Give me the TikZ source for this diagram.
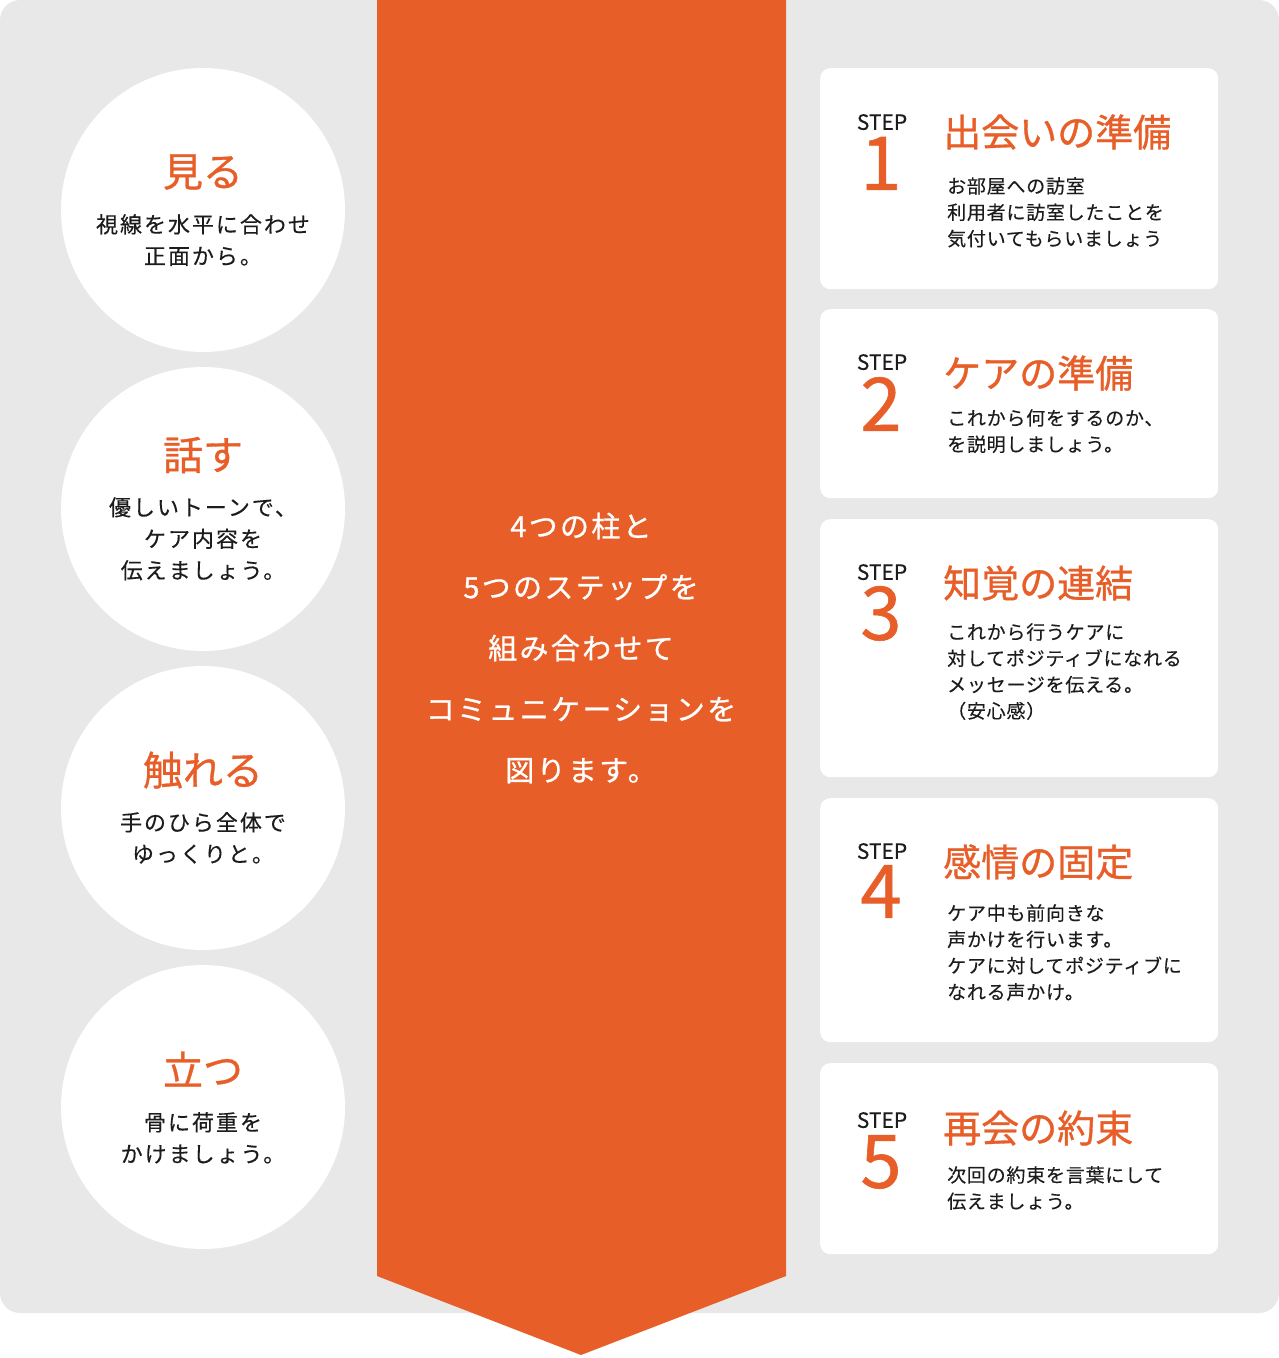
\documentclass[tikz,border=0pt]{standalone}
\usepackage{fontspec}
\setmainfont{Noto Sans CJK JP}[FakeBold=0.25]
\newfontfamily\jpmedium{Noto Sans CJK JP}[FakeBold=0.8]
\usepackage{xcolor}
\usetikzlibrary{shapes,positioning}

\definecolor{careorange}{HTML}{E85E28}
\definecolor{panelgray}{HTML}{E8E8E8}
\definecolor{inkblack}{HTML}{1C1C1C}

\begin{document}
\begin{tikzpicture}[x=1pt,y=-1pt]
      \tikzstyle{pillar} = [circle, fill=white, minimum size=284pt, inner sep=0pt]
      \tikzstyle{pillarhead} = [text=careorange, inner sep=0pt, font=\jpmedium\fontsize{40}{48}\selectfont]
      \tikzstyle{pillartext} = [text=inkblack, anchor=north, align=center, inner sep=0pt, font=\fontsize{22}{31.5}\selectfont\addfontfeatures{LetterSpace=9}]
      \tikzstyle{card} = [rectangle, rounded corners=10pt, fill=white, anchor=north west, minimum width=398pt, inner sep=0pt]
      \tikzstyle{steplabel} = [text=inkblack, anchor=south, inner sep=0pt, text height=15pt, text depth=0pt, font=\fontsize{21}{24}\selectfont]
      \tikzstyle{stepnum} = [text=careorange, anchor=south, inner sep=0pt, text height=51pt, text depth=0pt, font=\jpmedium\fontsize{74}{80}\selectfont]
      \tikzstyle{stephead} = [text=careorange, anchor=west, inner sep=0pt, font=\jpmedium\fontsize{38}{44}\selectfont]
      \tikzstyle{steptext} = [text=inkblack, anchor=north west, align=left, inner sep=0pt, font=\fontsize{19}{26.3}\selectfont\addfontfeatures{LetterSpace=4}]

      \useasboundingbox (0,0) rectangle (1279,1358);
      \fill[panelgray, rounded corners=20pt] (0,0) rectangle (1279,1313);
      \fill[careorange] (377,0) -- (786,0) -- (786,1276) -- (581,1355) -- (377,1276) -- cycle;

      \node[pillar] (see) at (203,210) {};
      \node[pillar] (talk) at (203,509) {};
      \node[pillar] (touch) at (203,808) {};
      \node[pillar] (stand) at (203,1107) {};

      \node[pillarhead] (seehead) at (203,172) {見る};
      \node[pillartext] (seetext) at (203,214) {視線を水平に合わせ\\正面から。};
      \node[pillarhead] (talkhead) at (203,455) {話す};
      \node[pillartext] (talktext) at (203,497) {優しいトーンで、\\ケア内容を\\伝えましょう。};
      \node[pillarhead] (touchhead) at (203,770) {触れる};
      \node[pillartext] (touchtext) at (203,812) {手のひら全体で\\ゆっくりと。};
      \node[pillarhead] (standhead) at (203,1069) {立つ};
      \node[pillartext] (standtext) at (203,1112) {骨に荷重を\\かけましょう。};

      \node[text=white, align=center, inner sep=0pt, font=\jpmedium\fontsize{29}{61}\selectfont\addfontfeatures{LetterSpace=8}] (core) at (581,648)
        {4つの柱と\\5つのステップを\\組み合わせて\\コミュニケーションを\\図ります。};

      \node[card, minimum height=221pt] (card1) at (820,68) {};
      \node[card, minimum height=189pt] (card2) at (820,309) {};
      \node[card, minimum height=258pt] (card3) at (820,519) {};
      \node[card, minimum height=244pt] (card4) at (820,798) {};
      \node[card, minimum height=191pt] (card5) at (820,1063) {};

      \node[steplabel] (step1) at (882,130) {STEP};
      \node[stepnum] (num1) at (881,190) {1};
      \node[stephead] (head1) at (943,132) {出会いの準備};
      \node[steptext] (text1) at (947,177) {お部屋への訪室\\利用者に訪室したことを\\気付いてもらいましょう};

      \node[steplabel] (step2) at (882,370) {STEP};
      \node[stepnum] (num2) at (881,431) {2};
      \node[stephead] (head2) at (943,373) {ケアの準備};
      \node[steptext] (text2) at (947,409) {これから何をするのか、\\を説明しましょう。};

      \node[steplabel] (step3) at (882,580) {STEP};
      \node[stepnum] (num3) at (881,640) {3};
      \node[stephead] (head3) at (943,583) {知覚の連結};
      \node[steptext] (text3) at (947,623) {これから行うケアに\\対してポジティブになれる\\メッセージを伝える。\\（安心感）};

      \node[steplabel] (step4) at (882,859) {STEP};
      \node[stepnum] (num4) at (881,918) {4};
      \node[stephead] (head4) at (943,862) {感情の固定};
      \node[steptext] (text4) at (947,904) {ケア中も前向きな\\声かけを行います。\\ケアに対してポジティブに\\なれる声かけ。};

      \node[steplabel] (step5) at (882,1128) {STEP};
      \node[stepnum] (num5) at (881,1188) {5};
      \node[stephead] (head5) at (943,1128) {再会の約束};
      \node[steptext] (text5) at (947,1166) {次回の約束を言葉にして\\伝えましょう。};
    \end{tikzpicture}
\end{document}
